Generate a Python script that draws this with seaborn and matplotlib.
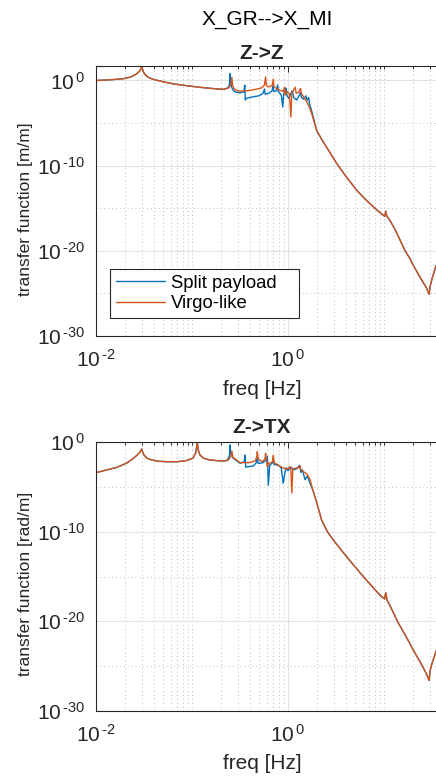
import numpy as np
import pandas as pd
import matplotlib
matplotlib.use("Agg")
import matplotlib.pyplot as plt
import seaborn as sns
from matplotlib.ticker import FixedLocator, FuncFormatter, NullFormatter

# ---------------- data (log10 of frequency [Hz] and log10 of magnitude) -------------
models = ["Split payload", "Virgo-like"]

# Z->Z panel
zz_low_logf = [-2.0, -1.85, -1.72, -1.64, -1.58, -1.55, -1.535, -1.524, -1.515, -1.505,
               -1.49, -1.46, -1.42, -1.38, -1.3, -1.19, -1.05, -0.917, -0.8, -0.674]
zz_low_logm = [0.0, 0.08, 0.2, 0.4, 0.75, 1.05, 1.3, 1.65, 1.3, 1.0,
               0.7, 0.4, 0.2, 0.06, -0.15, -0.41, -0.62, -0.8, -0.93, -1.04]

zz_split_mid_logf = [-0.65, -0.625, -0.61, -0.604, -0.598, -0.585, -0.57, -0.55, -0.5, -0.46,
                     -0.45, -0.445, -0.435, -0.38, -0.3, -0.26, -0.245, -0.238, -0.2, -0.165,
                     -0.155, -0.148, -0.12, -0.108, -0.1, -0.07, -0.055, -0.045, -0.03, -0.02,
                     -0.01, 0.01, 0.03, 0.045, 0.06, 0.09, 0.115, 0.13, 0.14, 0.165,
                     0.185, 0.2, 0.215, 0.225, 0.245, 0.27, 0.3]
zz_split_mid_logm = [-0.98, -0.85, -0.5, 0.8, -0.2, -0.85, -1.15, -1.35, -1.45, -1.35,
                     -0.55, -2.3, -2.1, -1.95, -1.8, -1.5, -1.0, -1.6, -1.5, -1.2,
                     -0.5, -1.3, -1.2, -0.5, -1.3, -1.7, -3.1, -1.6, -1.2, -0.9,
                     -1.8, -2.1, -1.5, -1.2, -2.0, -2.3, -1.8, -1.4, -2.0, -2.2,
                     -1.8, -2.3, -2.0, -2.8, -3.5, -4.6, -5.9]

zz_virgo_mid_logf = [-0.65, -0.615, -0.595, -0.585, -0.578, -0.565, -0.54, -0.5, -0.42, -0.34,
                     -0.27, -0.245, -0.233, -0.226, -0.2, -0.165, -0.153, -0.146, -0.12, -0.08,
                     -0.05, -0.035, -0.028, -0.01, 0.015, 0.03, 0.04, 0.06, 0.075, 0.085,
                     0.11, 0.13, 0.14, 0.16, 0.18, 0.2, 0.225, 0.25, 0.275, 0.3]
zz_virgo_mid_logm = [-0.98, -0.85, -0.5, 0.38, -0.5, -0.9, -1.15, -1.25, -1.2, -1.05,
                     -0.85, -0.5, 0.4, -0.6, -0.75, -0.6, 0.15, -0.7, -0.95, -1.15,
                     -1.3, -0.8, -1.7, -1.3, -1.6, -4.3, -1.5, -1.1, -0.8, -1.5,
                     -1.4, -0.95, -1.5, -1.9, -2.2, -2.6, -3.2, -4.0, -5.0, -5.9]

zz_tail_logf = [0.35, 0.4, 0.45, 0.507, 0.6, 0.716, 0.82, 0.924, 0.98, 1.008,
                1.018, 1.03, 1.06, 1.12, 1.22, 1.27, 1.3, 1.375, 1.44, 1.47,
                1.48, 1.5, 1.54, 1.58]
zz_tail_logm = [-6.9, -7.8, -8.7, -9.74, -11.2, -12.9, -14.1, -15.2, -15.7, -15.95,
                -15.35, -15.95, -16.4, -17.6, -20.0, -20.9, -21.6, -23.1, -24.3, -25.1,
                -24.2, -23.3, -21.8, -21.0]

# Z->TX panel
ztx_low_logf = [-2.0, -1.9, -1.78, -1.68, -1.61, -1.565, -1.54, -1.524, -1.515, -1.5,
                -1.47, -1.42, -1.35, -1.25, -1.15, -1.05, -0.99, -0.96, -0.945, -0.935,
                -0.917, -0.88, -0.82, -0.72, -0.65]
ztx_low_logm = [-3.42, -3.15, -2.82, -2.35, -1.82, -1.4, -1.1, -0.78, -1.1, -1.45,
                -1.8, -2.0, -2.15, -2.2, -2.2, -2.05, -1.8, -1.2, 0.0, -0.9,
                -1.45, -1.8, -2.0, -2.1, -2.1]

ztx_split_mid_logf = [-0.625, -0.61, -0.604, -0.598, -0.57, -0.5, -0.455, -0.448, -0.44, -0.36,
                      -0.33, -0.32, -0.31, -0.26, -0.23, -0.215, -0.205, -0.19, -0.16, -0.153,
                      -0.145, -0.1, -0.07, -0.05, -0.03, -0.014, 0.0, 0.03, 0.06, 0.09,
                      0.12, 0.135, 0.15, 0.177, 0.2, 0.23, 0.26]
ztx_split_mid_logm = [-1.9, -1.5, -0.33, -1.3, -1.82, -2.37, -2.2, -1.45, -2.8, -2.67,
                      -2.3, -1.7, -2.4, -2.3, -2.0, -1.6, -4.8, -2.6, -2.3, -1.82,
                      -2.5, -2.6, -2.9, -4.6, -3.3, -2.9, -3.2, -2.8, -3.1, -3.0,
                      -2.6, -3.4, -3.1, -4.2, -3.8, -4.6, -5.4]

ztx_virgo_mid_logf = [-0.62, -0.595, -0.585, -0.575, -0.5, -0.4, -0.34, -0.325, -0.32, -0.31,
                      -0.27, -0.24, -0.233, -0.226, -0.215, -0.2, -0.16, -0.153, -0.145, -0.1,
                      -0.05, 0.0, 0.02, 0.03, 0.04, 0.05, 0.09, 0.12, 0.125, 0.13,
                      0.16, 0.2, 0.23, 0.26]
ztx_virgo_mid_logm = [-2.0, -1.6, -1.0, -1.7, -2.3, -2.3, -2.1, -1.6, -1.08, -1.9,
                      -2.2, -1.9, -1.26, -2.0, -2.8, -2.4, -2.2, -1.5, -2.3, -2.6,
                      -2.9, -3.0, -2.75, -3.1, -5.7, -3.0, -2.9, -2.8, -2.67, -3.0,
                      -3.3, -3.6, -4.2, -5.4]

ztx_tail_logf = [0.3, 0.35, 0.41, 0.47, 0.55, 0.65, 0.784, 0.9, 0.97, 1.008,
                 1.018, 1.03, 1.06, 1.15, 1.23, 1.305, 1.38, 1.44, 1.47, 1.48,
                 1.5, 1.54, 1.58]
ztx_tail_logm = [-6.8, -8.7, -10.0, -10.9, -12.0, -13.3, -15.0, -16.4, -17.2, -17.5,
                 -16.8, -17.6, -18.2, -20.2, -21.7, -23.2, -24.6, -25.8, -26.6, -25.5,
                 -24.7, -23.4, -22.6]

fig_title = "X_GR-->X_MI"
panel_titles = ["Z->Z", "Z->TX"]
y_labels = ["transfer function [m/m]", "transfer function [rad/m]"]
x_label = "freq [Hz]"
colors = {"Split payload": "#0072BD", "Virgo-like": "#D95319"}


def build(low_f, low_m, s_f, s_m, v_f, v_m, t_f, t_m):
    rows = []
    for name, mf, mm in [("Split payload", s_f, s_m), ("Virgo-like", v_f, v_m)]:
        lf = np.array(list(low_f) + list(mf) + list(t_f))
        lm = np.array(list(low_m) + list(mm) + list(t_m))
        rows.append(pd.DataFrame({"freq": 10.0 ** lf, "mag": 10.0 ** lm, "model": name}))
    return pd.concat(rows, ignore_index=True)


df_zz = build(zz_low_logf, zz_low_logm, zz_split_mid_logf, zz_split_mid_logm,
              zz_virgo_mid_logf, zz_virgo_mid_logm, zz_tail_logf, zz_tail_logm)
df_ztx = build(ztx_low_logf, ztx_low_logm, ztx_split_mid_logf, ztx_split_mid_logm,
               ztx_virgo_mid_logf, ztx_virgo_mid_logm, ztx_tail_logf, ztx_tail_logm)

# ---------------- styling ----------------
sns.set_style("white")
plt.rcParams["font.family"] = ["Liberation Sans", "DejaVu Sans"]
plt.rcParams["mathtext.fontset"] = "custom"
plt.rcParams["mathtext.rm"] = "Liberation Sans"
plt.rcParams["mathtext.it"] = "Liberation Sans:italic"
plt.rcParams["mathtext.bf"] = "Liberation Sans:bold"
plt.rcParams["mathtext.sf"] = "Liberation Sans"

W, H = 436, 778
fig = plt.figure(figsize=(W / 100, H / 100), dpi=100)
fig.patch.set_facecolor("white")

ax_w = 384  # px, axes extends beyond the right edge of the figure (xlim up to 100 Hz)
ax_top = fig.add_axes([96 / W, 1 - 336 / H, ax_w / W, 270 / H])
ax_bot = fig.add_axes([96 / W, 1 - 711 / H, ax_w / W, 269 / H])

AX_COL = "#262626"


def pow_fmt(v, pos):
    e = int(round(np.log10(v)))
    if e < 0:
        return r"$\mathrm{10^{\,\text{-}%d}}$" % (-e)
    return r"$\mathrm{10^{\,%d}}$" % e


def style(ax, ytop, title, ylabel, title_pad):
    ax.set_xscale("log")
    ax.set_yscale("log")
    ax.set_xlim(1e-2, 1e2)
    ax.set_ylim(1e-30, ytop)
    ax.xaxis.set_major_locator(FixedLocator([1e-2, 1e0]))
    ax.xaxis.set_minor_locator(FixedLocator([m * 10.0 ** k for k in range(-2, 2) for m in range(1, 10)]))
    ax.yaxis.set_major_locator(FixedLocator([1e-30, 1e-20, 1e-10, 1e0]))
    ax.yaxis.set_minor_locator(FixedLocator([1e-25, 1e-15, 1e-5]))
    ax.xaxis.set_major_formatter(FuncFormatter(pow_fmt))
    ax.yaxis.set_major_formatter(FuncFormatter(pow_fmt))
    ax.xaxis.set_minor_formatter(NullFormatter())
    ax.yaxis.set_minor_formatter(NullFormatter())
    ax.set_axisbelow(True)
    ax.grid(True, which="major", color="#e2e2e2", ls="-", lw=0.8)
    ax.grid(True, which="minor", color="#bcbcbc", ls=(0, (1, 3)), lw=0.7)
    ax.tick_params(which="both", direction="in", top=True, right=True,
                   color=AX_COL, labelcolor=AX_COL, labelsize=15, width=0.7)
    ax.tick_params(which="major", length=4)
    ax.tick_params(which="minor", length=2.5)
    ax.tick_params(axis="y", which="major", pad=8)
    ax.tick_params(axis="x", which="major", pad=9)
    for sp in ax.spines.values():
        sp.set_color(AX_COL)
        sp.set_linewidth(0.8)
    ax.set_title(title, fontsize=15, fontweight="bold", x=(262 - 96) / ax_w, pad=title_pad)
    ax.set_xlabel(x_label, fontsize=15, color=AX_COL)
    ax.set_ylabel(ylabel, fontsize=12.5, color=AX_COL)


for ax, df in [(ax_top, df_zz), (ax_bot, df_ztx)]:
    sns.lineplot(data=df, x="freq", y="mag", hue="model", hue_order=models,
                 palette=colors, estimator=None, sort=False, lw=1.0, ax=ax, legend=(ax is ax_top))

style(ax_top, 10 ** 1.7, panel_titles[0], y_labels[0], 5.0)
style(ax_bot, 1e0, panel_titles[1], y_labels[1], 6.5)

ax_top.xaxis.set_label_coords((262 - 96) / ax_w, -44 / 270)
ax_bot.xaxis.set_label_coords((262 - 96) / ax_w, -43 / 269)
ax_top.yaxis.set_label_coords((33 - 96) / ax_w, (336 - 209) / 270)
ax_bot.yaxis.set_label_coords((33 - 96) / ax_w, (711 - 584) / 269)

handles, labels = ax_top.get_legend_handles_labels()
leg = ax_top.legend(handles, labels, loc="upper left",
                    bbox_to_anchor=(110 / W, 1 - 321 / H, 189 / W, 52 / H),
                    bbox_transform=fig.transFigure, mode="expand", borderaxespad=0,
                    fontsize=13.3, frameon=True, fancybox=False, framealpha=1,
                    edgecolor=AX_COL, handlelength=2.7, handletextpad=0.3,
                    labelspacing=0.2, borderpad=0.3)
leg.get_frame().set_linewidth(0.8)
for t in leg.get_texts():
    t.set_color("black")

fig.text(267 / W, 1 - 25 / H, fig_title, ha="center", va="baseline", fontsize=15, color="black")

fig.savefig("out.png", dpi=100)
